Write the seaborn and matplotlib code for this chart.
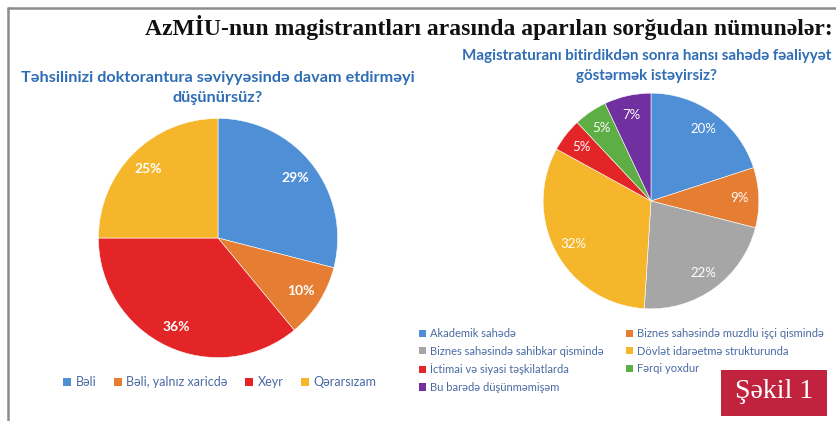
import matplotlib
matplotlib.use("Agg")
import matplotlib.pyplot as plt
import seaborn as sns
from matplotlib.patches import Rectangle, Patch
from matplotlib.lines import Line2D

sns.set_theme(style="white")
plt.rcParams['font.family'] = ['Lato', 'DejaVu Sans']

# ---- data ----
title = "AzMİU-nun magistrantları arasında aparılan sorğudan nümunələr:"

left_title = "Təhsilinizi doktorantura səviyyəsində davam etdirməyi\ndüşünürsüz?"
left_labels = ["Bəli", "Bəli, yalnız xaricdə", "Xeyr", "Qərarsızam"]
left_values = [29, 10, 36, 25]
left_colors = ["#4E8FD6", "#E57D32", "#E42527", "#F5B62C"]

right_title = "Magistraturanı bitirdikdən sonra hansı sahədə fəaliyyət\ngöstərmək istəyirsiz?"
right_labels = ["Akademik sahədə", "Biznes sahəsində muzdlu işçi qismində",
                "Biznes sahəsində sahibkar qismində", "Dövlət idarəetmə strukturunda",
                "İctimai və siyasi təşkilatlarda", "Fərqi yoxdur",
                "Bu barədə düşünməmişəm"]
right_values = [20, 9, 22, 32, 5, 5, 7]
right_colors = ["#4E8FD6", "#E57D32", "#A6A6A6", "#F5B62C", "#E42527", "#5DAE45", "#7030A0"]

badge_text = "Şəkil 1"

W, H = 837, 421
fig = plt.figure(figsize=(W / 100, H / 100), dpi=100)
fig.patch.set_facecolor("white")

def px_axes(cx, cy, r):
    return fig.add_axes([(cx - r) / W, (H - cy - r) / H, 2 * r / W, 2 * r / H])

title_col = "#2F6DB5"
leg_col = "#4A6AA3"

def draw_pie(ax, values, colors, fsize, weight):
    wedges, texts, autotexts = ax.pie(
        values, colors=colors, startangle=90, counterclock=False,
        autopct=lambda p: f"{p:.0f}%", pctdistance=0.82, radius=1.0,
        wedgeprops=dict(edgecolor="white", linewidth=0.4),
        textprops=dict(color="white", fontsize=fsize, fontweight=weight))
    ax.set_xlim(-1.02, 1.02)
    ax.set_ylim(-1.02, 1.02)
    ax.set_aspect("equal")
    ax.axis("off")
    return wedges

axL = px_axes(218, 238, 122)
draw_pie(axL, left_values, left_colors, 10, "bold")

axR = px_axes(651, 201, 110)
draw_pie(axR, right_values, right_colors, 9.5, "normal")

# Title
fig.text(489 / W, 1 - 28 / H, title, ha="center", va="center",
         fontsize=17, fontweight="bold", family="Liberation Serif", color="#111111")

# Sub titles
fig.text(218 / W, 1 - 88 / H, left_title, ha="center", va="center",
         fontsize=11.7, fontweight="bold", color=title_col, linespacing=1.6)
fig.text(647 / W, 1 - 66 / H, right_title, ha="center", va="center",
         fontsize=10.9, fontweight="bold", color=title_col, linespacing=1.6)

# Left legend
hL = [Patch(facecolor=c, edgecolor="none") for c in left_colors]
fig.legend(hL, left_labels, loc="center", ncol=4,
           bbox_to_anchor=(220 / W, 1 - 382 / H), frameon=False,
           fontsize=9, handlelength=0.6, handleheight=0.6,
           handletextpad=0.4, columnspacing=1.4, labelcolor=leg_col,
           borderpad=0, borderaxespad=0)

# Right legend, two columns filled row by row
hR = [Patch(facecolor=c, edgecolor="none") for c in right_colors]
col1 = [0, 2, 4, 6]
col2 = [1, 3, 5]
for idx, x0 in ((col1, 419), (col2, 626)):
    fig.legend([hR[i] for i in idx], [right_labels[i] for i in idx],
               loc="upper left", ncol=1,
               bbox_to_anchor=(x0 / W, 1 - 328 / H), frameon=False,
               fontsize=8, handlelength=0.6, handleheight=0.6,
               handletextpad=0.4, labelspacing=0.6, labelcolor=leg_col,
               borderpad=0, borderaxespad=0)

# Frame lines
fig.add_artist(Line2D([8 / W, 8 / W], [0, 1 - 8 / H], transform=fig.transFigure,
                      color="#8C8C8C", linewidth=1.8))
fig.add_artist(Line2D([8 / W, 1], [1 - 8 / H, 1 - 8 / H], transform=fig.transFigure,
                      color="#8C8C8C", linewidth=1.8))

# Badge
fig.add_artist(Rectangle((721 / W, 1 - 416 / H), 106 / W, 46 / H,
                         transform=fig.transFigure, facecolor="#C1233F",
                         edgecolor="none"))
fig.text(774 / W, 1 - 392 / H, badge_text, ha="center", va="center",
         fontsize=20, family="Liberation Serif", color="white")

fig.savefig("out.png", dpi=100, facecolor="white")
